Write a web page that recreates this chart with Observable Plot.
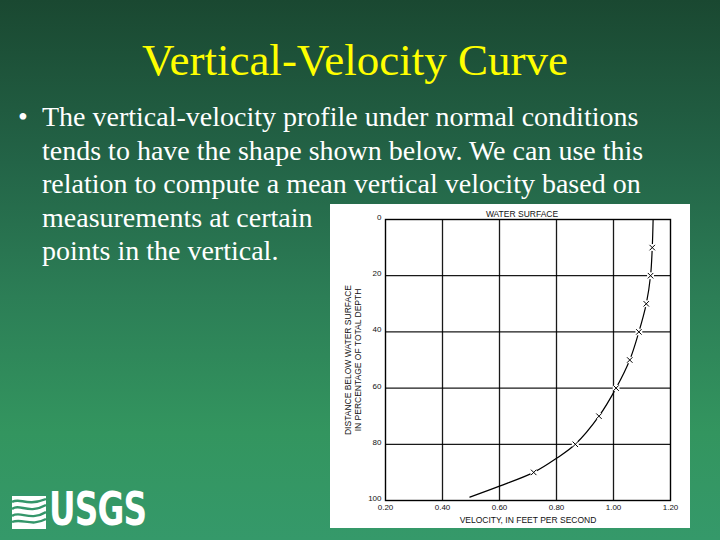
<!DOCTYPE html>
<html>
<head>
<meta charset="utf-8">
<script src="https://cdn.jsdelivr.net/npm/d3@7"></script>
<script src="https://cdn.jsdelivr.net/npm/@observablehq/plot@0.6"></script>
<style>
  html, body { margin: 0; padding: 0; }
  #slide {
    position: relative; width: 720px; height: 540px; overflow: hidden;
    background: linear-gradient(to bottom, #1a4831 0%, #236447 30%, #2c7e56 55%, #33955f 80%, #35996a 100%);
    font-family: "Liberation Serif", "Times New Roman", serif;
  }
  #title {
    position: absolute; left: -5px; width: 720px; top: 35px; text-align: center;
    color: #ffff00; font-size: 45px; line-height: 50px; white-space: nowrap;
  }
  #bullet {
    position: absolute; left: 18px; top: 100px; color: #ffffff;
    font-size: 28px; line-height: 33.5px; white-space: nowrap;
  }
  #bullet .dot { position: absolute; left: 0; top: 0; }
  #bullet .txt { position: absolute; left: 24px; top: 0; }
  #chart { position: absolute; left: 330px; top: 204px; }
  #logo { position: absolute; left: 12px; top: 490px; height: 40px; }
  #logo .word {
    position: absolute; left: 37px; top: -6px; color: #fff; font-weight: bold;
    font-family: "Liberation Sans Narrow", "DejaVu Sans Condensed", "Liberation Sans", sans-serif;
    font-size: 46px; line-height: 50px; letter-spacing: -1px; transform: scaleX(0.79); transform-origin: left;
  }
</style>
</head>
<body>
<div id="slide">
  <div id="title">Vertical-Velocity Curve</div>
  <div id="bullet">
    <span class="dot">•</span>
    <div class="txt">The vertical-velocity profile under normal conditions<br>tends to have the shape shown below. We can use this<br>relation to compute a mean vertical velocity based on<br>measurements at certain<br>points in the vertical.</div>
  </div>
  <div id="chart"></div>
  <div id="logo">
    <svg width="34" height="36" viewBox="0 0 34 36" style="position:absolute;left:0;top:3px">
      <rect x="0" y="0" width="34" height="36" fill="#fff"/>
      <path d="M0 9 C8 4, 14 14, 34 6" stroke="#34966a" stroke-width="2.4" fill="none"/>
      <path d="M0 16 C8 10, 16 22, 34 12" stroke="#34966a" stroke-width="2.4" fill="none"/>
      <path d="M0 23 C8 17, 18 29, 34 19" stroke="#34966a" stroke-width="2.4" fill="none"/>
      <path d="M0 29 C10 25, 20 34, 34 26" stroke="#34966a" stroke-width="2.4" fill="none"/>
      <path d="M0 0 L34 0 L34 3 L0 3 Z" fill="#34966a"/>
    </svg>
    <div class="word">USGS</div>
  </div>
</div>
<script>
// Tick values
const velocityTicks = [0.2, 0.4, 0.6, 0.8, 1.0, 1.2];
const depthTicks = [0, 20, 40, 60, 80, 100];

// Measured points (x marks)
const pointDepth = [10, 20, 30, 40, 50, 60, 70, 80, 90];
const pointVelocity = [1.136, 1.13, 1.115, 1.089, 1.057, 1.009, 0.949, 0.866, 0.72];

// Curve
const curveDepth = [0, 10, 20, 30, 40, 50, 60, 70, 80, 85, 90, 94.9, 98.8];
const curveVelocity = [1.139, 1.136, 1.13, 1.115, 1.089, 1.057, 1.009, 0.949, 0.866, 0.80, 0.72, 0.60, 0.496];

const points = pointDepth.map((d, i) => ({depth: d, velocity: pointVelocity[i]}));
const curve = curveDepth.map((d, i) => ({depth: d, velocity: curveVelocity[i]}));

const gridStyle = {stroke: "#000", strokeOpacity: 0.9, strokeWidth: 1.3};
const labelFont = {fontSize: 8.5, fill: "#111", textAnchor: "middle"};

const chart = Plot.plot({
  width: 360,
  height: 324,
  marginLeft: 55,
  marginRight: 20,
  marginTop: 15,
  marginBottom: 28,
  style: {background: "#ffffff", color: "#111", fontFamily: "'Liberation Sans', Arial, sans-serif", fontSize: "8px"},
  x: {domain: [0.2, 1.2]},
  y: {domain: [0, 100], reverse: true},
  marks: [
    Plot.gridX(velocityTicks.slice(1, -1), gridStyle),
    Plot.gridY(depthTicks.slice(1, -1), gridStyle),
    Plot.frame({stroke: "#000", strokeWidth: 1.4}),
    Plot.axisX(velocityTicks, {tickSize: 0, tickPadding: 4, label: null, tickFormat: d3.format(".2f"), fontSize: 8}),
    Plot.axisY(depthTicks, {tickSize: 0, tickPadding: 4, label: null, fontSize: 8, dy: -2}),
    Plot.line(curve, {x: "velocity", y: "depth", curve: "catmull-rom", stroke: "#000", strokeWidth: 1.2}),
    Plot.dot(points, {x: "velocity", y: "depth", r: 3.5, fill: "#fff", stroke: "none"}),
    Plot.dot(points, {x: "velocity", y: "depth", symbol: "times", r: 2.6, stroke: "#000", strokeWidth: 1}),
    Plot.text(["WATER SURFACE"], {frameAnchor: "top", dy: -9, dx: -6, ...labelFont}),
    Plot.text(["VELOCITY, IN FEET PER SECOND"], {frameAnchor: "bottom", dy: 22, ...labelFont}),
    Plot.text(["DISTANCE BELOW WATER SURFACE"], {frameAnchor: "left", dx: -37, rotate: -90, ...labelFont}),
    Plot.text(["IN PERCENTAGE OF TOTAL DEPTH"], {frameAnchor: "left", dx: -27, rotate: -90, ...labelFont})
  ]
});
document.getElementById("chart").appendChild(chart);
</script>
</body>
</html>
